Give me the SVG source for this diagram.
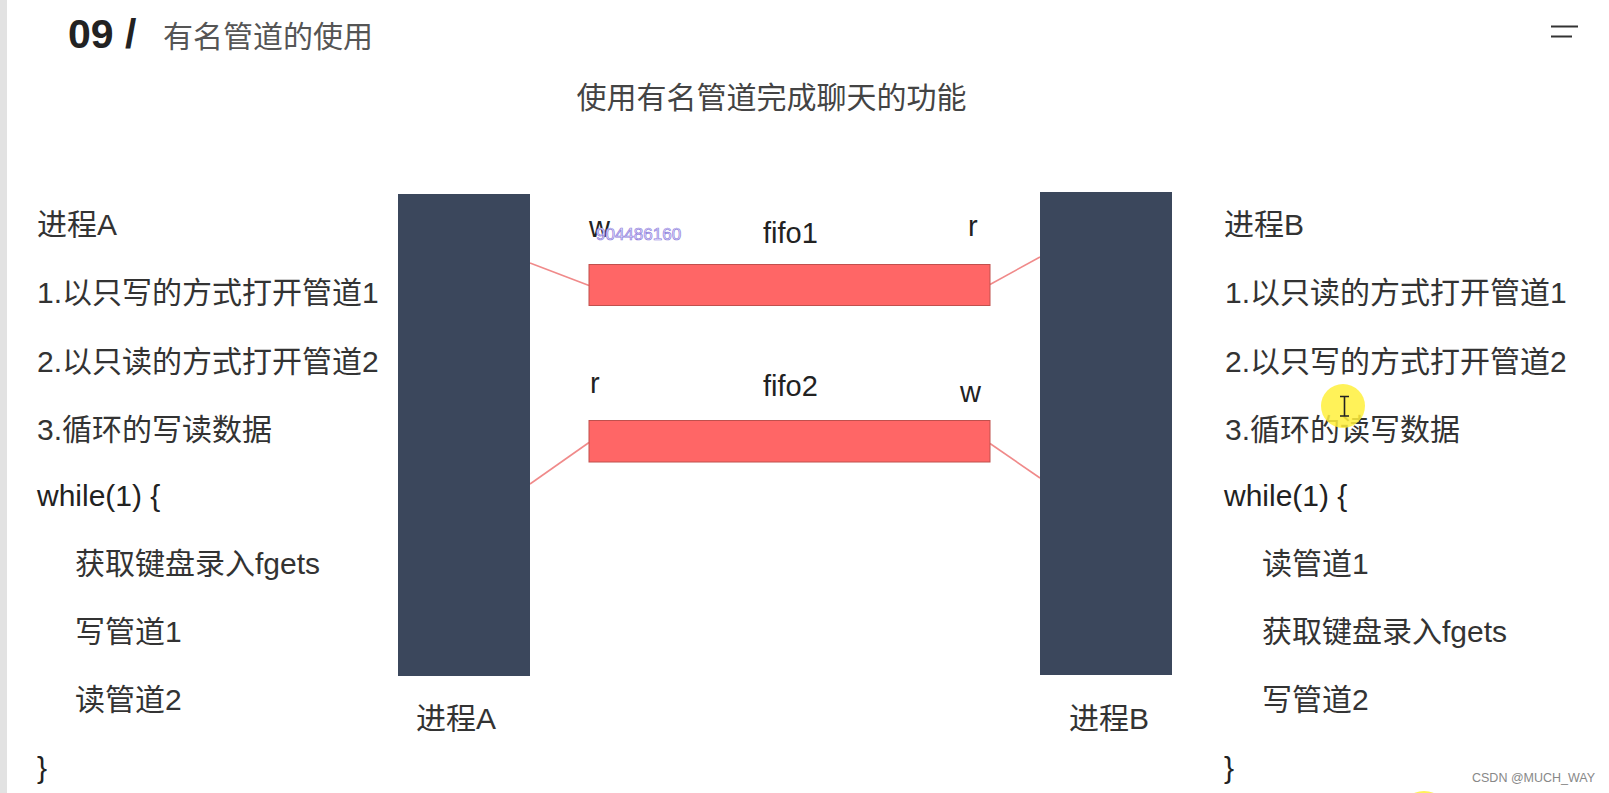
<svg xmlns="http://www.w3.org/2000/svg" width="1609" height="793" viewBox="0 0 1609 793">
<style>
text{font-family:"Liberation Sans","Noto Sans CJK SC",sans-serif;}
.body{font-size:30px;fill:#333;}
.lbl{font-size:29px;fill:#222;}
.proc{fill:#3b475c;}
.fifo{fill:#ff6666;stroke:#c0504d;stroke-width:1;}
.conn{stroke:#f08a8a;stroke-width:1.6;fill:none;}
</style>
<rect x="0" y="0" width="1609" height="793" fill="#ffffff"/>
<rect x="0" y="0" width="7" height="793" fill="#e2e2e2"/>
<g id="header">
<text x="68" y="48" style="font-size:41px;font-weight:bold;fill:#222">09 /</text>
<text x="163" y="47" style="font-size:30px;fill:#555">有名管道的使用</text>
<text x="771.5" y="108" text-anchor="middle" style="font-size:30px;fill:#444">使用有名管道完成聊天的功能</text>
<line x1="1551" y1="26.5" x2="1578" y2="26.5" stroke="#333" stroke-width="2"/>
<line x1="1551" y1="36.5" x2="1572" y2="36.5" stroke="#333" stroke-width="2"/>
</g>
<g id="connectors">
<line class="conn" x1="530" y1="263" x2="589" y2="285.5"/>
<line class="conn" x1="990" y1="284.5" x2="1040" y2="257"/>
<line class="conn" x1="589" y1="442.5" x2="530" y2="484"/>
<line class="conn" x1="990" y1="443.5" x2="1040" y2="478"/>
</g>
<g id="processA">
<rect class="proc" x="398" y="194" width="132" height="482"/>
<text class="body" x="416" y="729">进程A</text>
</g>
<g id="processB">
<rect class="proc" x="1040" y="192" width="132" height="483"/>
<text class="body" x="1069" y="729">进程B</text>
</g>
<g id="fifo1">
<rect class="fifo" x="589" y="264.5" width="401" height="41"/>
<text class="lbl" x="763" y="243">fifo1</text>
<text class="lbl" x="589" y="237">w</text>
<text class="lbl" x="968" y="236">r</text>
</g>
<g id="fifo2">
<rect class="fifo" x="589" y="420.5" width="401" height="41.5"/>
<text class="lbl" x="763" y="396">fifo2</text>
<text class="lbl" x="590" y="393">r</text>
<text class="lbl" x="960" y="402">w</text>
</g>
<text x="596" y="240" style="font-size:17px;fill:#ece8ff;stroke:#8f80dc;stroke-width:0.7">904486160</text>
<g id="textA" class="body">
<text class="body" x="37" y="235">进程A</text>
<text class="body" x="37" y="303">1.以只写的方式打开管道1</text>
<text class="body" x="37" y="372">2.以只读的方式打开管道2</text>
<text class="body" x="37" y="440">3.循环的写读数据</text>
<text class="body" x="37" y="506" style="fill:#222">while(1) {</text>
<text class="body" x="75" y="574">获取键盘录入fgets</text>
<text class="body" x="75" y="642">写管道1</text>
<text class="body" x="75" y="710">读管道2</text>
<text class="body" x="37" y="778" style="fill:#222">}</text>
</g>
<g id="textB" class="body">
<text class="body" x="1224" y="235">进程B</text>
<text class="body" x="1225" y="303">1.以只读的方式打开管道1</text>
<text class="body" x="1225" y="372">2.以只写的方式打开管道2</text>
<text class="body" x="1225" y="440">3.循环的读写数据</text>
<text class="body" x="1224" y="506" style="fill:#222">while(1) {</text>
<text class="body" x="1262" y="574">读管道1</text>
<text class="body" x="1262" y="642">获取键盘录入fgets</text>
<text class="body" x="1262" y="710">写管道2</text>
<text class="body" x="1224" y="778" style="fill:#222">}</text>
</g>
<g id="cursor">
<circle cx="1343" cy="406" r="22" fill="#fff03c" fill-opacity="0.85"/>
<path d="M1340 396.5 H1349 M1344.5 396.5 V416 M1340 416 H1349" stroke="#222" stroke-width="1.6" fill="none"/>
<circle cx="1424" cy="815" r="24" fill="#fff03c" fill-opacity="0.85"/>
</g>
<text x="1472" y="782" style="font-size:12.5px;fill:#888">CSDN @MUCH_WAY</text>
</svg>
